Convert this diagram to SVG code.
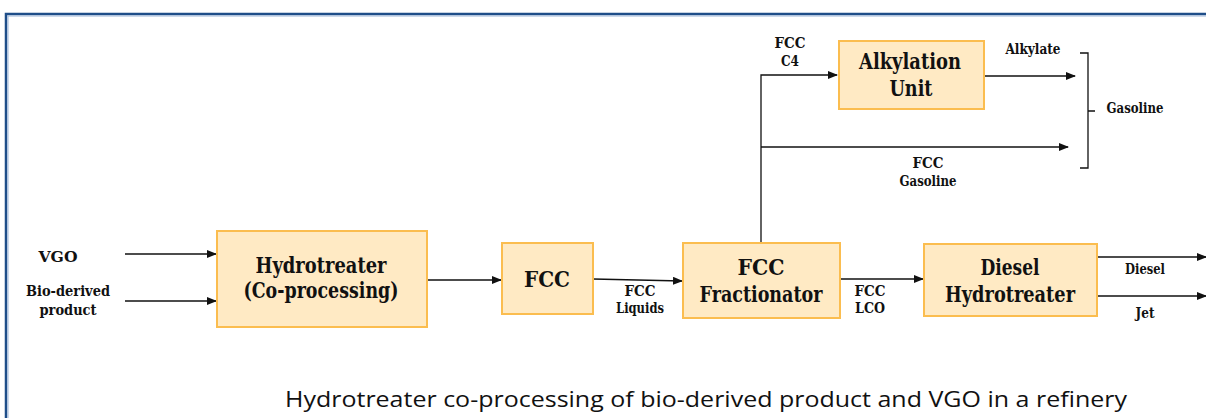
<svg xmlns="http://www.w3.org/2000/svg" width="1206" height="418" viewBox="0 0 1206 418">
<style>
.box{fill:#FFEAC4;stroke:#FBBD4F;stroke-width:2}
.big{font-family:"DejaVu Serif","Liberation Serif",serif;font-weight:bold;font-size:22px;fill:#111;text-anchor:middle}
.sm{font-family:"DejaVu Serif","Liberation Serif",serif;font-weight:bold;font-size:14px;fill:#111;text-anchor:middle}
.ln{stroke:#111;stroke-width:1.3;fill:none}
</style>
<defs>
<marker id="ah" markerWidth="10" markerHeight="8" refX="9" refY="4" orient="auto" markerUnits="userSpaceOnUse">
<path d="M0,0 L10,4 L0,8 z" fill="#111"/>
</marker>
</defs>
<rect width="1206" height="418" fill="#fff"/>
<g id="frame">
<path d="M6,420 V14 H1210" fill="none" stroke="#1F4E89" stroke-width="2.5"/>
<path d="M8,420 V16 H1210" fill="none" stroke="#9DB6D8" stroke-width="1"/>
</g>
<g id="connectors">
<line class="ln" x1="125" y1="254" x2="216" y2="254" marker-end="url(#ah)"/>
<line class="ln" x1="125" y1="301" x2="216" y2="301" marker-end="url(#ah)"/>
<line class="ln" x1="428" y1="280" x2="501" y2="280" marker-end="url(#ah)"/>
<line class="ln" x1="593" y1="279" x2="682" y2="281" marker-end="url(#ah)"/>
<line class="ln" x1="841" y1="279" x2="923" y2="279" marker-end="url(#ah)"/>
<polyline class="ln" points="761,243 761,75 837,75" marker-end="url(#ah)"/>
<line class="ln" x1="761" y1="147" x2="1068" y2="147" marker-end="url(#ah)"/>
<line class="ln" x1="985" y1="76" x2="1075" y2="76" marker-end="url(#ah)"/>
<line class="ln" x1="1098" y1="257" x2="1206" y2="257" marker-end="url(#ah)"/>
<line class="ln" x1="1098" y1="296" x2="1206" y2="296" marker-end="url(#ah)"/>
<path class="ln" d="M1080,53 H1088 V168 H1080 M1088,111 H1095"/>
</g>
<g id="hydrotreater">
<rect class="box" x="217" y="231" width="210" height="96"/>
<text class="big" x="321" y="273" textLength="131" lengthAdjust="spacingAndGlyphs">Hydrotreater</text>
<text class="big" x="321" y="298" textLength="155" lengthAdjust="spacingAndGlyphs">(Co-processing)</text>
</g>
<g id="fcc">
<rect class="box" x="502" y="243" width="91" height="71"/>
<text class="big" x="547" y="287" textLength="46" lengthAdjust="spacingAndGlyphs">FCC</text>
</g>
<g id="fractionator">
<rect class="box" x="683" y="243" width="157" height="75"/>
<text class="big" x="761" y="275" textLength="47" lengthAdjust="spacingAndGlyphs">FCC</text>
<text class="big" x="761" y="302" textLength="123" lengthAdjust="spacingAndGlyphs">Fractionator</text>
</g>
<g id="diesel-hydrotreater">
<rect class="box" x="924" y="244" width="173" height="72"/>
<text class="big" x="1010" y="275" textLength="59" lengthAdjust="spacingAndGlyphs">Diesel</text>
<text class="big" x="1010" y="302" textLength="130" lengthAdjust="spacingAndGlyphs">Hydrotreater</text>
</g>
<g id="alkylation">
<rect class="box" x="839" y="41" width="145" height="68"/>
<text class="big" x="910" y="69" textLength="102" lengthAdjust="spacingAndGlyphs">Alkylation</text>
<text class="big" x="911" y="96" textLength="43" lengthAdjust="spacingAndGlyphs">Unit</text>
</g>
<g id="labels">
<text class="sm" x="58" y="262" textLength="39" lengthAdjust="spacingAndGlyphs">VGO</text>
<text class="sm" x="68" y="296" textLength="84" lengthAdjust="spacingAndGlyphs">Bio-derived</text>
<text class="sm" x="68" y="315" textLength="57" lengthAdjust="spacingAndGlyphs">product</text>
<text class="sm" x="640" y="296" textLength="31" lengthAdjust="spacingAndGlyphs">FCC</text>
<text class="sm" x="640" y="313" textLength="48" lengthAdjust="spacingAndGlyphs">Liquids</text>
<text class="sm" x="870" y="296" textLength="31" lengthAdjust="spacingAndGlyphs">FCC</text>
<text class="sm" x="870" y="313" textLength="30" lengthAdjust="spacingAndGlyphs">LCO</text>
<text class="sm" x="790" y="48" textLength="31" lengthAdjust="spacingAndGlyphs">FCC</text>
<text class="sm" x="790" y="66" textLength="18" lengthAdjust="spacingAndGlyphs">C4</text>
<text class="sm" x="1033" y="54" textLength="55" lengthAdjust="spacingAndGlyphs">Alkylate</text>
<text class="sm" x="1135" y="113" textLength="57" lengthAdjust="spacingAndGlyphs">Gasoline</text>
<text class="sm" x="928" y="168" textLength="31" lengthAdjust="spacingAndGlyphs">FCC</text>
<text class="sm" x="928" y="186" textLength="57" lengthAdjust="spacingAndGlyphs">Gasoline</text>
<text class="sm" x="1145" y="274" textLength="40" lengthAdjust="spacingAndGlyphs">Diesel</text>
<text class="sm" x="1145" y="318" textLength="19" lengthAdjust="spacingAndGlyphs">Jet</text>
</g>
<text x="285" y="407" font-family="'Open Sans','Liberation Sans',sans-serif" font-size="22" fill="#111" textLength="842" lengthAdjust="spacingAndGlyphs">Hydrotreater co-processing of bio-derived product and VGO in a refinery</text>
</svg>
